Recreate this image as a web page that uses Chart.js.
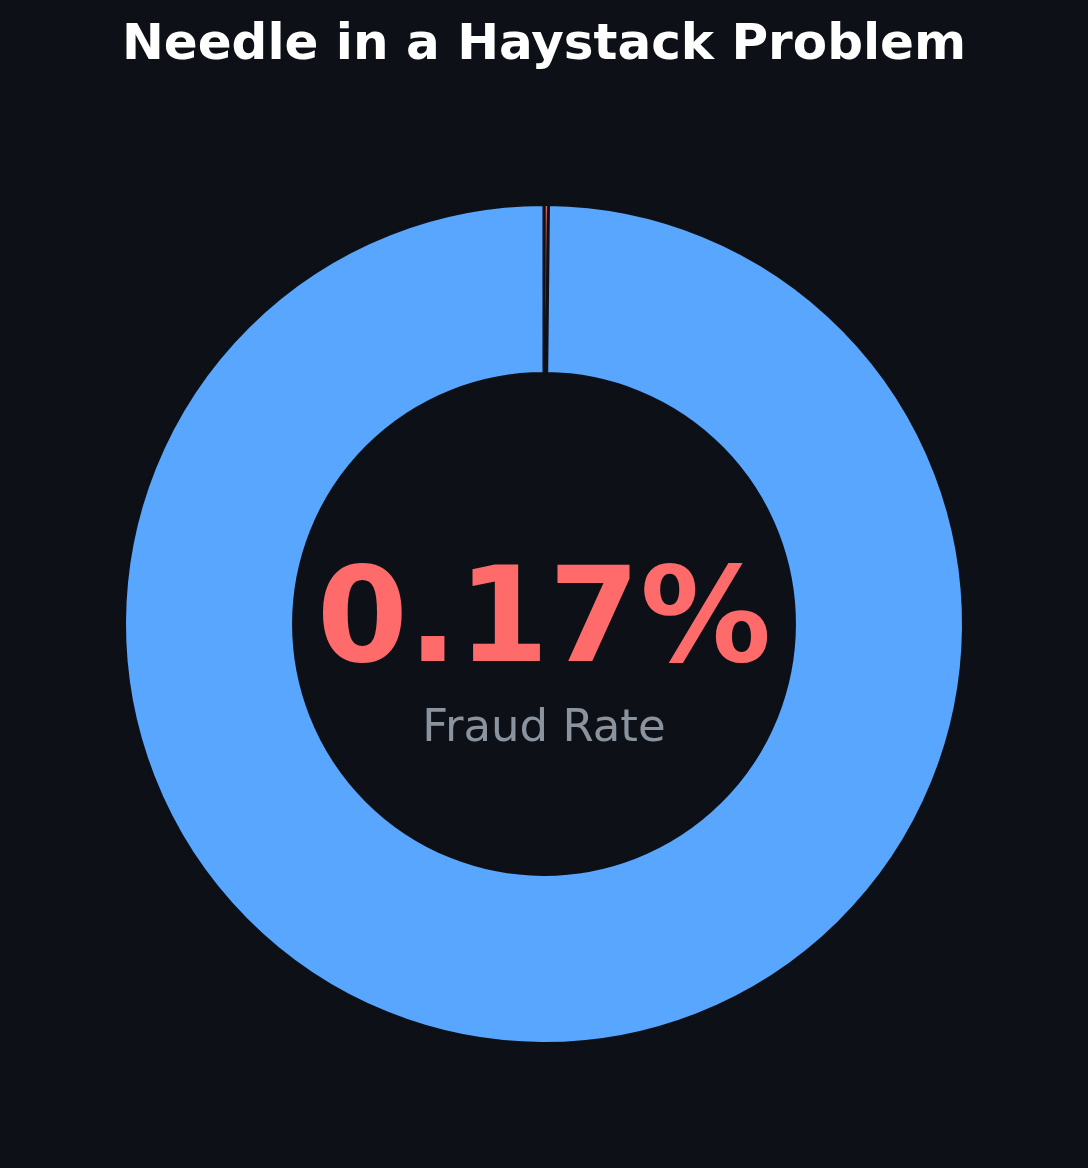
<!DOCTYPE html>
<html>
<head>
<meta charset="utf-8">
<script src="https://cdn.jsdelivr.net/npm/chart.js@4"></script>
<style>
html,body{margin:0;padding:0;background:#0d1117;}
#wrap{width:1088px;height:1168px;}
</style>
</head>
<body>
<div id="wrap"><canvas id="c" width="1088" height="1168"></canvas></div>
<script>
const categories = ["Fraud", "Legitimate"];
const values = [0.17, 99.83];
const colors = ["#ff6b6b", "#58a6ff"];
const centerValue = "0.17%";
const centerLabel = "Fraud Rate";
const titleText = "Needle in a Haystack Problem";

const centerTextPlugin = {
  id: "centerText",
  afterDatasetsDraw(chart) {
    const meta = chart.getDatasetMeta(0);
    const arc = meta.data[0];
    const cx = arc.x, cy = arc.y;
    const ctx = chart.ctx;
    ctx.save();
    ctx.textAlign = "center";
    ctx.textBaseline = "alphabetic";
    ctx.fillStyle = "#ff6b6b";
    ctx.font = "bold 131px 'DejaVu Sans'";
    ctx.fillText(centerValue, cx, cy + 37);
    ctx.fillStyle = "#8b949e";
    ctx.font = "45px 'DejaVu Sans'";
    ctx.fillText(centerLabel, cx, cy + 117);
    ctx.restore();
  }
};

new Chart(document.getElementById("c"), {
  type: "doughnut",
  data: {
    labels: categories,
    datasets: [{
      data: values,
      backgroundColor: colors,
      borderColor: "#0d1117",
      borderWidth: 3,
      hoverOffset: 0
    }]
  },
  options: {
    responsive: false,
    animation: false,
    cutout: "59.7%",
    rotation: 0,
    layout: { padding: { top: 0, bottom: 123, left: 0, right: 0 } },
    plugins: {
      legend: { display: false },
      tooltip: { enabled: false },
      title: {
        display: true,
        text: titleText,
        color: "#ffffff",
        font: { family: "'DejaVu Sans'", size: 50, weight: "bold", lineHeight: 1.2 },
        padding: { top: 16, bottom: 127 }
      }
    }
  },
  plugins: [centerTextPlugin]
});
</script>
</body>
</html>
